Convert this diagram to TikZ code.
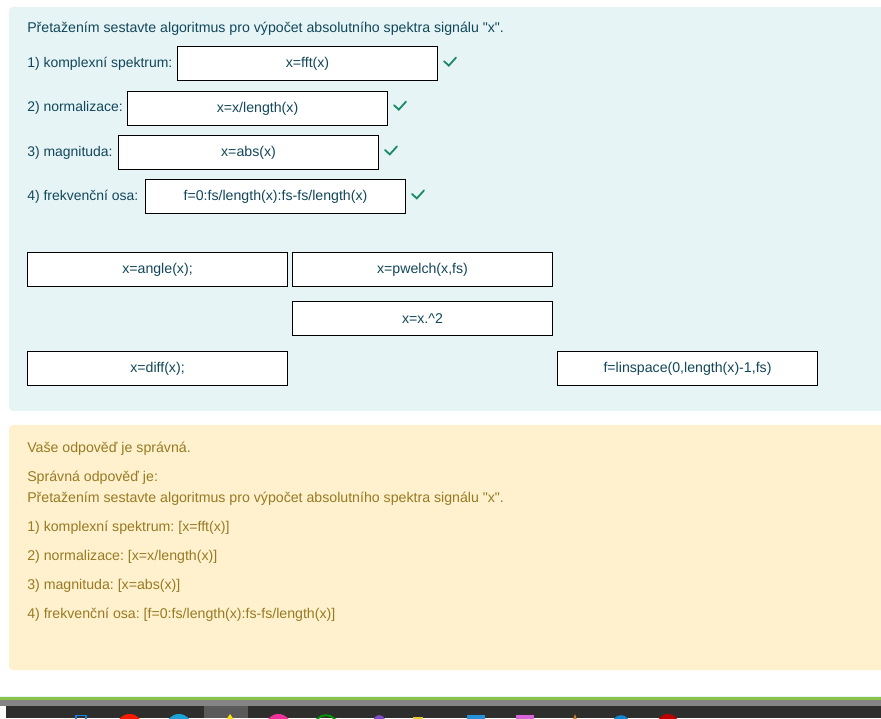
\documentclass[tikz,border=0pt]{standalone}
\usepackage{fontspec}
\setmainfont{Liberation Sans}[Ligatures=TeXOff]
\frenchspacing
\usepackage{tikz}
\usetikzlibrary{calc,positioning}
\definecolor{panelblue}{HTML}{E6F4F6}
\definecolor{panelyellow}{HTML}{FFF1CE}
\definecolor{inktext}{HTML}{12475A}
\definecolor{goldtext}{HTML}{977A22}
\definecolor{checkgreen}{HTML}{1A8A62}
\definecolor{barframe}{HTML}{858585}
\definecolor{bargreen}{HTML}{8BC34A}
\definecolor{bardark}{HTML}{2E2E2D}
\definecolor{barbutton}{HTML}{5A5A5A}
\tikzset{
	dropbox/.style={draw=black,line width=0.25mm,fill=white,minimum width=64.9mm,minimum height=8.5mm,inner sep=0pt,text=inktext,font=\fontsize{10.07}{12}\selectfont},
	asktext/.style={anchor=base west,inner sep=0pt,text=inktext,font=\fontsize{10.07}{12}\selectfont},
	asklabel/.style={asktext,font=\fontsize{9.93}{12}\selectfont},
	answertext/.style={anchor=base west,inner sep=0pt,text=goldtext,font=\fontsize{10.07}{12}\selectfont},
	checkmark/.style={draw=checkgreen,line width=0.45mm,line cap=round},
}
\begin{document}
\begin{tikzpicture}
				\useasboundingbox (0mm,0mm) rectangle (220.25mm,179.5mm);
				\clip (0mm,0mm) rectangle (220.25mm,179.5mm);
				\fill[white] (0mm,0mm) rectangle (220.25mm,179.5mm);
				\fill[panelblue,rounded corners=1mm] (2.25mm,76.75mm) rectangle (225mm,177.75mm);
				\fill[panelyellow,rounded corners=1mm] (2.25mm,12mm) rectangle (225mm,73.25mm);

				\node[asktext] (title) at (6.75mm,171.25mm) {Přetažením sestavte algoritmus pro výpočet absolutního spektra signálu "x".};
				\node[asklabel] (labelone) at (6.75mm,162.5mm) {1) komplexní spektrum:};
				\node[asklabel] (labeltwo) at (6.75mm,151.5mm) {2) normalizace:};
				\node[asklabel] (labelthree) at (6.75mm,140.25mm) {3) magnituda:};
				\node[asklabel] (labelfour) at (6.75mm,129.25mm) {4) frekvenční osa:};

				\node[dropbox] (fft) at (76.875mm,163.625mm) {x=fft(x)};
				\node[dropbox] (norm) at (64.375mm,152.375mm) {x=x/length(x)};
				\node[dropbox] (abs) at (62.125mm,141.375mm) {x=abs(x)};
				\node[dropbox] (freq) at (68.875mm,130.375mm) {f=0:fs/length(x):fs-fs/length(x)};

				\draw[checkmark] (111mm,164.2mm) -- (112.2mm,163.1mm) -- (114mm,165.1mm);
				\draw[checkmark] (98.5mm,153.2mm) -- (99.7mm,152.1mm) -- (101.5mm,154.1mm);
				\draw[checkmark] (96.25mm,142mm) -- (97.45mm,140.9mm) -- (99.25mm,142.9mm);
				\draw[checkmark] (103mm,131mm) -- (104.2mm,129.9mm) -- (106mm,131.9mm);

				\node[dropbox] (angle) at (39.375mm,112.125mm) {x=angle(x);};
				\node[dropbox] (pwelch) at (105.625mm,112.125mm) {x=pwelch(x,fs)};
				\node[dropbox] (square) at (105.625mm,99.875mm) {x=x.\^{}2};
				\node[dropbox] (diff) at (39.375mm,87.375mm) {x=diff(x);};
				\node[dropbox] (linspace) at (171.875mm,87.375mm) {f=linspace(0,length(x)-1,fs)};

				\node[answertext] (verdict) at (6.75mm,66.25mm) {Vaše odpověď je správná.};
				\node[answertext] (rightis) at (6.75mm,59mm) {Správná odpověď je:};
				\node[answertext] (titletwo) at (6.75mm,53.75mm) {Přetažením sestavte algoritmus pro výpočet absolutního spektra signálu "x".};
				\node[answertext] (answerone) at (6.75mm,46.5mm) {1) komplexní spektrum: [x=fft(x)]};
				\node[answertext] (answertwo) at (6.75mm,39.5mm) {2) normalizace: [x=x/length(x)]};
				\node[answertext] (answerthree) at (6.75mm,32.25mm) {3) magnituda: [x=abs(x)]};
				\node[answertext] (answerfour) at (6.75mm,25mm) {4) frekvenční osa: [f=0:fs/length(x):fs-fs/length(x)]};

				%bottom bar
				\fill[panelblue] (0mm,5.25mm) rectangle (220.25mm,5.5mm);
				\fill[barframe] (0mm,3mm) rectangle (220.25mm,4.5mm);
				\fill[bargreen] (0mm,4.5mm) rectangle (220.25mm,5.25mm);
				\fill[bardark] (1.5mm,0mm) rectangle (220.25mm,3mm);
				\fill[white] (0mm,0mm) rectangle (1.5mm,3mm);
				\fill[barbutton] (51mm,0mm) rectangle (62mm,3mm);
				\draw[blue!50!cyan!80!gray,line width=0.35mm] (19mm,-1mm) rectangle (21.5mm,0.7mm);
				\fill[red!80!orange] (32.4mm,-2.3mm) circle (3.3mm);
				\fill[cyan!75!teal] (44.75mm,-2.3mm) circle (3.3mm);
				\fill[yellow!85!orange] (57.5mm,1mm) -- (56.5mm,-0.5mm) -- (58.5mm,-0.5mm) -- cycle;
				\fill[magenta!75!pink] (69.6mm,-2.3mm) circle (3.3mm);
				\draw[green!60!black,line width=0.45mm] (81.5mm,-2.3mm) circle (3mm);
				\fill[violet!60!blue!70] (94.8mm,-0.8mm) circle (1.5mm);
				\fill[yellow!60!brown] (103.25mm,-1mm) rectangle (105.75mm,0.3mm);
				\fill[blue!40!cyan!70!gray] (116.75mm,-1mm) rectangle (121.25mm,0.75mm);
				\fill[violet!50!magenta!60] (129mm,-1mm) rectangle (133.5mm,0.75mm);
				\fill[brown!70!orange] (143.75mm,1mm) -- (143.2mm,-0.5mm) -- (144.3mm,-0.5mm) -- cycle;
				\fill[cyan!70!blue] (155.25mm,-1.5mm) circle (2.2mm);
				\fill[red!75!black] (167mm,-1.8mm) circle (2.8mm);
\end{tikzpicture}
\end{document}
